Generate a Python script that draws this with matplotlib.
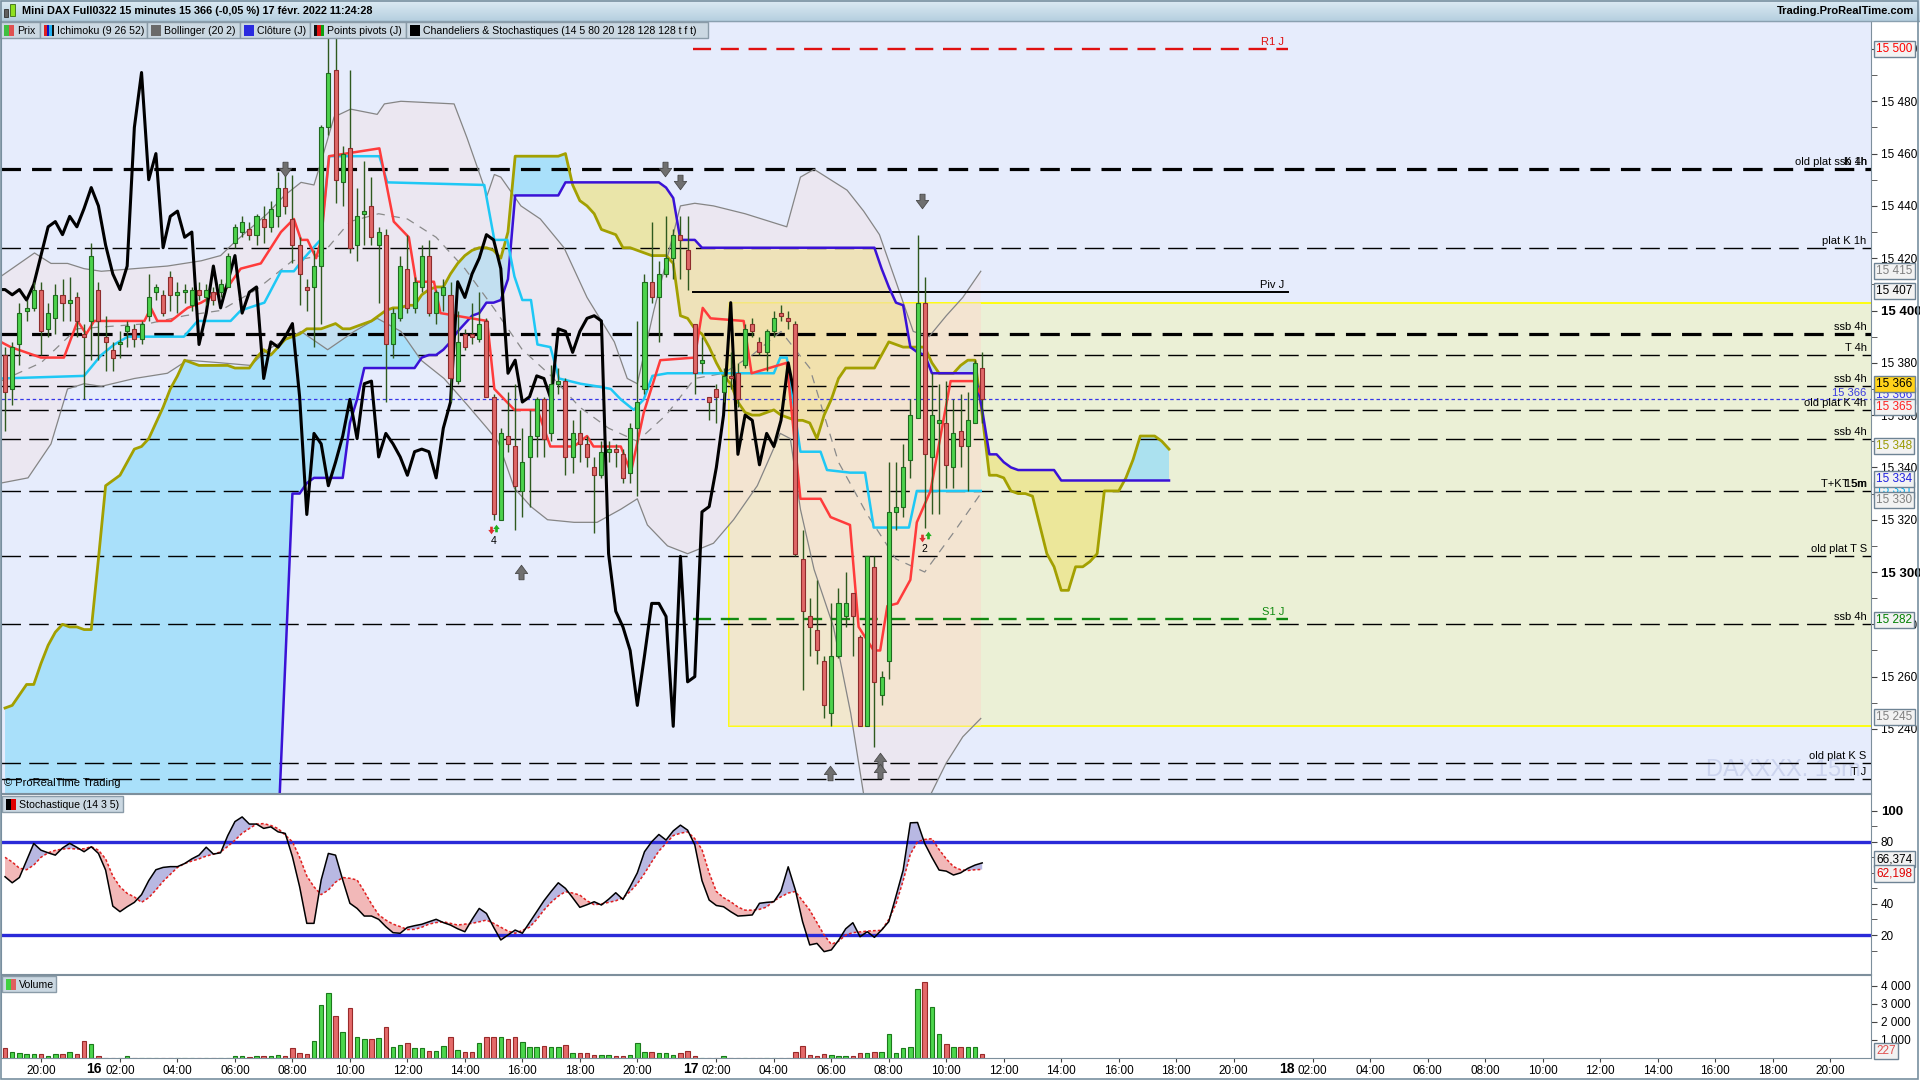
import numpy as np
import pandas as pd
import matplotlib
matplotlib.use('Agg')
import matplotlib.pyplot as plt
from matplotlib.patches import Rectangle, Polygon
from matplotlib.colors import LinearSegmentedColormap

plt.rcParams['font.family'] = ['Liberation Sans', 'DejaVu Sans']
plt.rcParams['lines.scale_dashes'] = False

# ---------------- data (15 min bars, Mini DAX Full0322) ----------------
sessions = [('2022-02-15 18:45', '2022-02-15 21:45'),
            ('2022-02-16 01:15', '2022-02-16 21:45'),
            ('2022-02-17 01:15', '2022-02-17 21:45'),
            ('2022-02-18 01:15', '2022-02-18 21:45')]

opens = [15383, 15370, 15387, 15400, 15401, 15408, 15393, 15397, 15406, 15403,
         15405, 15391, 15396, 15408, 15390, 15385, 15387, 15392, 15393, 15389,
         15398, 15407, 15406, 15413, 15406, 15407, 15402, 15408, 15405, 15407,
         15407, 15409, 15426, 15430, 15431, 15429, 15435, 15432, 15436, 15447,
         15435, 15425, 15409, 15409, 15417, 15470, 15492, 15449, 15462, 15425,
         15437, 15440, 15425, 15429, 15387, 15397, 15416, 15401, 15409, 15421,
         15399, 15406, 15406, 15373, 15391, 15391, 15389, 15396, 15367, 15320,
         15352, 15348, 15331, 15344, 15352, 15366, 15353, 15372, 15373, 15344,
         15353, 15349, 15340, 15337, 15346, 15347, 15345, 15338, 15355, 15370,
         15411, 15405, 15414, 15420, 15429, 15423, 15395, 15380, 15367, 15370,
         15369, 15375, 15376, 15379, 15395, 15388, 15384, 15392, 15399, 15397,
         15395, 15305, 15283, 15278, 15266, 15246, 15268, 15283, 15292, 15275,
         15241, 15302, 15253, 15266, 15323, 15325, 15343, 15359, 15403, 15344,
         15357, 15357, 15340, 15354, 15348, 15357, 15378]
highs = [15386, 15388, 15403, 15404, 15411, 15411, 15403, 15410, 15412, 15413,
         15407, 15395, 15426, 15411, 15398, 15388, 15392, 15396, 15395, 15396,
         15414, 15410, 15408, 15415, 15411, 15410, 15409, 15411, 15410, 15409,
         15412, 15422, 15433, 15436, 15434, 15437, 15440, 15442, 15453, 15455,
         15452, 15428, 15412, 15423, 15471, 15512, 15512, 15463, 15492, 15447,
         15457, 15451, 15432, 15431, 15401, 15421, 15429, 15413, 15425, 15427,
         15408, 15412, 15411, 15400, 15393, 15403, 15407, 15397, 15368, 15355,
         15369, 15372, 15355, 15362, 15367, 15367, 15379, 15378, 15374, 15358,
         15362, 15352, 15344, 15350, 15350, 15349, 15347, 15357, 15396, 15414,
         15434, 15419, 15436, 15431, 15436, 15436, 15395, 15390, 15367, 15372,
         15378, 15384, 15380, 15395, 15397, 15390, 15393, 15400, 15402, 15400,
         15396, 15316, 15290, 15297, 15268, 15288, 15294, 15300, 15292, 15276,
         15306, 15306, 15262, 15342, 15342, 15349, 15366, 15429, 15413, 15376,
         15372, 15373, 15366, 15368, 15369, 15381, 15384]
lows = [15354, 15364, 15379, 15396, 15400, 15383, 15390, 15391, 15396, 15396,
        15390, 15366, 15381, 15381, 15377, 15377, 15382, 15386, 15386, 15387,
        15396, 15404, 15398, 15400, 15399, 15403, 15400, 15404, 15402, 15402,
        15405, 15409, 15424, 15428, 15427, 15425, 15426, 15430, 15432, 15437,
        15418, 15402, 15400, 15386, 15395, 15467, 15441, 15440, 15422, 15419,
        15425, 15425, 15403, 15365, 15382, 15396, 15399, 15399, 15407, 15398,
        15395, 15400, 15365, 15372, 15385, 15387, 15388, 15367, 15320, 15320,
        15346, 15316, 15321, 15325, 15344, 15344, 15350, 15368, 15337, 15338,
        15342, 15340, 15315, 15336, 15342, 15340, 15334, 15334, 15329, 15368,
        15403, 15388, 15413, 15412, 15412, 15408, 15368, 15376, 15358, 15357,
        15365, 15370, 15363, 15378, 15390, 15383, 15377, 15390, 15396, 15393,
        15306, 15255, 15268, 15265, 15244, 15241, 15267, 15279, 15268, 15241,
        15241, 15233, 15249, 15259, 15316, 15321, 15336, 15359, 15317, 15322,
        15322, 15332, 15332, 15340, 15331, 15357, 15357]
closes = [15369, 15386, 15399, 15401, 15408, 15392, 15399, 15406, 15403, 15404,
          15396, 15390, 15421, 15396, 15388, 15382, 15388, 15394, 15389, 15395,
          15405, 15409, 15399, 15406, 15407, 15408, 15408, 15406, 15408, 15404,
          15410, 15421, 15432, 15434, 15429, 15436, 15432, 15439, 15447, 15440,
          15425, 15414, 15408, 15417, 15470, 15491, 15450, 15460, 15424, 15436,
          15438, 15428, 15430, 15387, 15399, 15417, 15401, 15411, 15421, 15399,
          15407, 15409, 15374, 15388, 15386, 15390, 15395, 15367, 15322, 15353,
          15349, 15333, 15342, 15352, 15366, 15351, 15372, 15373, 15344, 15353,
          15349, 15344, 15337, 15346, 15347, 15346, 15336, 15355, 15365, 15411,
          15405, 15414, 15420, 15429, 15427, 15416, 15376, 15381, 15365, 15367,
          15375, 15374, 15366, 15393, 15392, 15384, 15392, 15397, 15398, 15396,
          15307, 15285, 15279, 15270, 15249, 15268, 15288, 15288, 15283, 15241,
          15306, 15258, 15260, 15323, 15325, 15340, 15360, 15403, 15345, 15360,
          15358, 15341, 15353, 15348, 15358, 15380, 15366]
volume = [520, 330, 280, 185, 185, 220, 110, 185, 185, 300,
          185, 940, 740, 90, 0, 0, 0, 75, 0, 0,
          0, 0, 0, 0, 0, 0, 0, 0, 0, 0,
          0, 0, 75, 75, 20, 75, 75, 75, 130, 90,
          520, 240, 185, 940, 2960, 3630, 2330, 1440, 2790, 1170,
          1020, 1020, 1070, 1720, 610, 700, 800, 520, 520, 390,
          390, 650, 1170, 425, 330, 330, 830, 1170, 1170, 1130,
          1040, 1170, 890, 570, 570, 670, 570, 610, 700, 240,
          240, 240, 150, 130, 130, 90, 90, 150, 830, 330,
          330, 240, 280, 150, 240, 390, 75, 0, 0, 0,
          75, 0, 0, 0, 0, 0, 0, 0, 0, 0,
          330, 670, 130, 90, 185, 150, 90, 90, 75, 240,
          240, 330, 300, 1300, 240, 520, 610, 3850, 4220, 2830,
          1300, 760, 570, 610, 570, 570, 227]

# Ichimoku (9 26 52): tenkan / kijun
tenkan_x = [-0.6, 0.8, 5.0, 8.2, 10.1, 11.3, 12.4, 19.4, 20.3, 21.2,
            23.1, 25.4, 27.3, 31.0, 32.8, 35.6, 38.4, 40.2, 41.2, 42.1,
            43.3, 44.0, 45.1, 52.1, 54.1, 56.2, 57.2, 59.7, 60.6, 67.1,
            68.1, 70.9, 74.1, 75.9, 79.2, 81.0, 81.9, 85.7, 87.1, 88.9,
            91.2, 96.0, 97.1, 98.2, 102.8, 103.9, 108.8, 110.7, 113.5, 114.9,
            117.6, 118.8, 120.9, 121.8, 122.8, 124.2, 126.0, 126.9, 128.8, 131.6,
            134.8, 135.8]
tenkan = [15388, 15386, 15382, 15382, 15396, 15391, 15396, 15396, 15401, 15396,
          15396, 15401, 15403, 15409, 15416, 15418, 15430, 15435, 15427, 15427,
          15420, 15427, 15459, 15462, 15434, 15428, 15411, 15411, 15399, 15396,
          15370, 15362, 15362, 15348, 15348, 15352, 15348, 15348, 15338, 15361,
          15381, 15382, 15401, 15397, 15396, 15376, 15380, 15328, 15328, 15321,
          15318, 15279, 15270, 15270, 15287, 15288, 15297, 15319, 15331, 15373,
          15373, 15368]
kijun_x = [-0.6, 11.0, 13.4, 15.2, 17.1, 24.9, 26.8, 31.4, 32.8, 36.1,
           38.4, 40.2, 41.6, 43.9, 45.1, 52.1, 53.2, 66.7, 68.1, 69.9,
           70.9, 72.0, 73.2, 74.1, 75.9, 77.1, 80.1, 82.4, 84.3, 85.7,
           87.5, 88.9, 90.1, 92.2, 107.0, 107.9, 108.8, 110.7, 113.5, 114.4,
           117.6, 119.7, 120.9, 125.8, 126.9, 135.8]
kijun = [15374, 15375, 15383, 15387, 15390, 15390, 15396, 15396, 15400, 15403,
         15415, 15415, 15420, 15427, 15459, 15459, 15449, 15448, 15427, 15427,
         15413, 15404, 15404, 15387, 15386, 15374, 15372, 15371, 15370, 15366,
         15362, 15366, 15375, 15376, 15376, 15382, 15382, 15346, 15346, 15339,
         15338, 15338, 15317, 15317, 15331, 15331]

# senkou spans, one value per bar (projected 26 bars ahead)
ssa = [15248, 15249, 15253, 15257, 15257, 15265, 15272, 15277, 15280, 15279,
       15279, 15278, 15278, 15305, 15333, 15335, 15337, 15342, 15347, 15348,
       15351, 15357, 15363, 15370, 15375, 15381, 15380, 15379, 15379, 15379,
       15379, 15379, 15378, 15378, 15378, 15382, 15385, 15383, 15386, 15389,
       15390, 15391, 15393, 15393, 15393, 15394, 15395, 15393, 15393, 15394,
       15395, 15396, 15398, 15400, 15401, 15401, 15402, 15402, 15406, 15408,
       15409, 15409, 15414, 15418, 15421, 15423, 15424, 15424, 15423, 15420,
       15430, 15459, 15459, 15459, 15459, 15459, 15459, 15459, 15460, 15448,
       15442, 15440, 15437, 15431, 15430, 15429, 15424, 15424, 15423, 15422,
       15421, 15421, 15421, 15418, 15398, 15397, 15393, 15391, 15386, 15380,
       15375, 15372, 15365, 15361, 15360, 15360, 15361, 15362, 15360, 15359,
       15358, 15358, 15357, 15351, 15360, 15366, 15374, 15378, 15378, 15378,
       15378, 15378, 15383, 15388, 15387, 15386, 15386, 15386, 15386, 15380,
       15376, 15376, 15376, 15379, 15381, 15381, 15360, 15337, 15337, 15336,
       15331, 15330, 15330, 15329, 15318, 15307, 15302, 15293, 15293, 15302,
       15302, 15304, 15307, 15331, 15331, 15331, 15336, 15343, 15352, 15352,
       15352, 15350, 15347]
ssb = ([15170] * 38 +
       [15200, 15265,
        15330, 15330, 15334, 15336, 15336, 15336, 15336, 15336, 15357, 15366,
        15378, 15378, 15378, 15378, 15378, 15378, 15378, 15378, 15382, 15383,
        15383, 15385, 15388, 15392, 15395, 15398, 15399, 15403, 15403, 15404,
        15412, 15444, 15444, 15444, 15444, 15444, 15444, 15444, 15449, 15449,
        15449, 15449, 15449, 15449, 15449, 15449, 15449, 15449, 15449, 15449,
        15449, 15449, 15447, 15443, 15427, 15427, 15427, 15424, 15424, 15424,
        15424, 15424, 15424, 15424, 15424, 15424, 15424, 15424, 15424, 15424,
        15424, 15424, 15424, 15424, 15424, 15424, 15424, 15424, 15424, 15424,
        15424, 15424, 15416, 15409, 15403, 15402, 15386, 15384, 15383, 15376,
        15376, 15376, 15376, 15376, 15376, 15376, 15362, 15345, 15345, 15342,
        15340, 15339, 15339, 15339, 15339, 15339, 15339, 15335, 15335, 15335,
        15335, 15335, 15335, 15335, 15335, 15335, 15335, 15335, 15335, 15335,
        15335, 15335, 15335])

# Bollinger (20 2)
bb_up_x = [-0.6, 4.1, 6.4, 8.7, 11.0, 13.4, 18.0, 22.6, 27.3, 30.0,
           31.9, 36.5, 38.9, 41.2, 43.0, 44.0, 45.8, 48.1, 51.8, 52.8,
           55.1, 62.5, 64.3, 67.1, 68.1, 69.0, 71.8, 74.5, 77.8, 81.0,
           84.8, 86.6, 88.0, 90.3, 94.0, 96.0, 98.6, 103.0, 108.8, 110.7,
           112.6, 117.2, 119.5, 121.7, 124.0, 126.4, 128.6, 131.0, 133.3, 135.8]
bb_up = [15413, 15422, 15418, 15418, 15416, 15415, 15416, 15417, 15419, 15421,
         15426, 15437, 15444, 15449, 15448, 15457, 15474, 15477, 15475, 15479,
         15480, 15479, 15466, 15444, 15452, 15451, 15440, 15435, 15424, 15405,
         15388, 15374, 15372, 15400, 15440, 15441, 15440, 15437, 15432, 15451,
         15454, 15446, 15438, 15429, 15411, 15392, 15390, 15398, 15405, 15415]
bb_lo_x = [-0.6, 3.2, 6.4, 8.7, 11.0, 13.4, 18.0, 22.6, 25.4, 30.0,
           34.2, 36.5, 41.2, 44.9, 48.6, 51.8, 55.1, 57.9, 61.1, 64.3,
           67.1, 68.6, 70.9, 73.2, 75.5, 79.2, 82.4, 85.7, 88.0, 89.4,
           92.2, 95.0, 98.6, 101.4, 104.7, 107.9, 109.3, 110.7, 112.6, 115.3,
           117.7, 119.5, 122.0, 125.0, 128.3, 131.0, 133.3, 135.8]
bb_lo = [15334, 15336, 15349, 15370, 15372, 15371, 15374, 15376, 15381, 15380,
         15379, 15385, 15392, 15385, 15392, 15397, 15392, 15381, 15374, 15364,
         15355, 15350, 15332, 15325, 15320, 15319, 15319, 15324, 15328, 15318,
         15310, 15307, 15311, 15320, 15333, 15353, 15351, 15324, 15301, 15279,
         15246, 15215, 15200, 15195, 15212, 15227, 15237, 15244]
bb_mid_x = [-0.6, 5, 10, 15, 20, 25, 30, 35, 40, 44, 48, 52, 56, 60, 64, 68, 72,
            76, 80, 84, 88, 92, 96, 100, 104, 108, 112, 116, 120, 124, 128, 132, 135.8]
bb_mid = [15373, 15380, 15393, 15394, 15395, 15398, 15400, 15408, 15419, 15421,
          15434, 15437, 15435, 15428, 15416, 15401, 15385, 15375, 15363, 15355,
          15350, 15360, 15374, 15376, 15383, 15392, 15378, 15342, 15322, 15305,
          15300, 15315, 15330]

# Stochastique (14 3 5)
stoch_k = [57.5, 53.6, 57.0, 68.0, 78.9, 74.6, 72.9, 71.4, 76.0, 79.0,
           76.4, 73.6, 76.8, 72.5, 61.8, 38.6, 35.0, 38.2, 41.0, 46.0,
           55.0, 62.0, 63.5, 64.0, 64.0, 66.0, 69.0, 71.4, 76.5, 72.1,
           72.9, 84.0, 93.0, 96.0, 91.4, 91.4, 88.6, 89.6, 86.4, 85.4,
           70.4, 51.1, 27.5, 27.5, 55.4, 72.5, 71.4, 55.4, 40.4, 37.1,
           32.2, 32.2, 30.1, 25.4, 21.5, 21.1, 24.9, 26.0, 26.9, 28.5,
           30.1, 28.0, 26.4, 24.0, 22.1, 30.0, 37.1, 33.9, 25.0, 16.8,
           20.0, 23.2, 21.1, 28.0, 35.0, 42.0, 48.0, 53.6, 50.0, 44.0,
           37.8, 39.5, 41.4, 39.3, 43.0, 47.2, 42.9, 51.1, 60.0, 73.6,
           80.0, 84.7, 81.1, 87.0, 90.7, 87.5, 78.0, 55.0, 42.5, 39.0,
           38.2, 35.0, 32.2, 32.5, 32.9, 40.4, 41.0, 41.4, 48.3, 63.9,
           48.9, 28.6, 13.6, 14.6, 9.3, 10.4, 16.5, 24.0, 27.9, 18.9,
           22.1, 18.5, 23.2, 28.6, 45.0, 61.8, 92.2, 92.4, 78.9, 70.0,
           61.8, 61.1, 58.6, 60.0, 62.9, 65.0, 66.4]
stoch_d = [70.0, 67.0, 63.0, 62.0, 65.0, 70.0, 72.9, 74.5, 75.3, 75.7,
           75.3, 75.5, 76.8, 74.6, 69.0, 58.0, 51.0, 46.8, 44.5, 41.0,
           44.0, 49.0, 54.5, 59.0, 63.5, 66.0, 67.6, 69.0, 70.8, 72.0,
           73.5, 77.0, 81.0, 85.5, 88.5, 91.4, 91.7, 90.5, 88.5, 84.3,
           80.0, 70.0, 58.0, 51.0, 46.0, 48.9, 54.0, 57.0, 56.5, 55.4,
           48.0, 40.0, 33.0, 29.6, 27.0, 25.4, 23.5, 23.6, 25.0, 27.0,
           28.0, 28.5, 27.5, 26.4, 27.0, 27.5, 28.5, 29.6, 27.5, 25.0,
           22.5, 21.1, 23.0, 25.0, 30.0, 36.0, 41.0, 45.0, 47.9, 47.0,
           45.7, 42.0, 39.5, 40.0, 41.0, 42.0, 44.0, 48.0, 53.0, 59.6,
           67.0, 74.0, 79.0, 84.0, 85.5, 86.4, 82.0, 75.0, 60.0, 48.0,
           44.0, 41.4, 38.0, 36.0, 36.0, 36.5, 38.0, 42.0, 44.6, 47.0,
           48.0, 42.0, 36.0, 28.0, 20.0, 14.0, 16.0, 20.0, 21.5, 22.0,
           22.5, 22.8, 23.0, 30.0, 40.0, 55.0, 72.0, 80.0, 81.5, 82.0,
           75.0, 69.0, 64.0, 62.0, 61.5, 62.0, 62.2]

# horizontal levels drawn by the user
level_values = [15454, 15424, 15391, 15383, 15371, 15362, 15351, 15331, 15306, 15280, 15227, 15221]
level_names = ['old plat ssb 4h', 'plat K 1h', 'ssb 4h', 'T 4h', 'ssb 4h', 'old plat K 4h',
               'ssb 4h', 'T+K 15m', 'old plat T S', 'ssb 4h', 'old plat K S', 'T J']
level_thick = [True, False, True, False, False, False, False, False, False, False, False, False]

# daily pivots (J)
pivot_names = ['R1 J', 'Piv J', 'S1 J']
pivot_values = [15500, 15407, 15282]
pivot_span = [95.8, 178.5]

# session range boxes
range_box = [100.8, 15241, 15403]
today_box_end = 135.8

# arrows / signals
down_arrow_x = [39.0, 91.9, 93.9, 127.6]
down_arrow_y = [15454, 15454, 15449, 15442]
up_arrow_x = [71.8, 114.8, 121.8, 121.8]
up_arrow_y = [15300, 15223, 15228, 15224]
signal_x = [68, 128]
signal_y = [15316, 15313]
signal_txt = ['4', '2']

# last value boxes on the price scale
price_boxes = [(15500, '15 500', '#FF0000', '#F2F2F2'), (15415, '15 415', '#808080', '#F2F2F2'),
               (15407.5, '15 407', '#000000', '#F2F2F2'), (15367.5, '15 366', '#3333EE', '#F2F2F2'),
               (15363, '15 365', '#FF2020', '#F2F2F2'), (15372, '15 366', '#000000', '#FFD21A'),
               (15348.3, '15 348', '#9A9A00', '#F2F2F2'), (15331.4, '15 331', '#00B0F0', '#F2F2F2'),
               (15327.5, '15 330', '#808080', '#F2F2F2'), (15335.6, '15 334', '#2020E0', '#F2F2F2'),
               (15281.6, '15 282', '#008000', '#F2F2F2'), (15244.7, '15 245', '#808080', '#F2F2F2')]
stoch_boxes = [(68.7, '66,374', '#000000'), (59.6, '62,198', '#E00000')]


def fmt(v):
    return f"{int(v):,}".replace(',', ' ')


# ---------------- figure ----------------
W, H = 1920, 1080
fig = plt.figure(figsize=(19.2, 10.8), dpi=100, facecolor='white')


def fa(x0, y0, x1, y1):
    return [x0 / W, 1 - y1 / H, (x1 - x0) / W, (y1 - y0) / H]


ax = fig.add_axes(fa(1, 21, 1871, 793))
ax_st = fig.add_axes(fa(1, 794, 1871, 974))
ax_v = fig.add_axes(fa(1, 975, 1871, 1058))
XL = (-0.56, 259.7)
for a in (ax, ax_st, ax_v):
    a.set_xlim(*XL)
    for s in a.spines.values():
        s.set_color('#7D8F9C')
    a.yaxis.tick_right()
ax.set_facecolor('#E6ECFC')
ax.set_ylim(15215.5, 15510.7)

idx = np.arange(len(closes))
o, hi, lo, c = map(np.array, (opens, highs, lows, closes))
up = c >= o

# range rectangles
ax.add_patch(Rectangle((range_box[0], range_box[1]), XL[1] - range_box[0] + 1, range_box[2] - range_box[1],
                       fc='#EBF0D6', ec='#FFFF00', lw=1.3, zorder=0.3))
ax.add_patch(Rectangle((range_box[0], range_box[1]), today_box_end - range_box[0], range_box[2] - range_box[1],
                       fc='#F6E0C6', ec='none', alpha=0.55, zorder=0.4))

# kumo
xc = np.arange(len(ssa))
a_ssa, a_ssb = np.array(ssa, float), np.array(ssb, float)
ax.fill_between(xc, a_ssa, a_ssb, where=a_ssa >= a_ssb, interpolate=True, color='#90DCFA', alpha=0.7, lw=0, zorder=0.6)
ax.fill_between(xc, a_ssa, a_ssb, where=a_ssa < a_ssb, interpolate=True, color='#EEE173', alpha=0.6, lw=0, zorder=0.6)

# bollinger area
poly = list(zip(bb_up_x, bb_up)) + list(zip(bb_lo_x, bb_lo))[::-1]
ax.add_patch(Polygon(poly, closed=True, fc='#F8DEDC', ec='none', alpha=0.33, zorder=0.7))
ax.plot(bb_up_x, bb_up, color='#858585', lw=0.9, zorder=1.2)
ax.plot(bb_lo_x, bb_lo, color='#858585', lw=0.9, zorder=1.2)
ax.plot(bb_mid_x, bb_mid, color='#8A8A8A', lw=0.9, dashes=(6, 5), zorder=1.2)

# watermark
ax.text(0.912, 0.03, 'DAXXXX. 15m', transform=ax.transAxes, fontsize=17, color='#CCD4EE',
        ha='left', va='center', zorder=0.8)

# user levels
for v, name, thick in zip(level_values, level_names, level_thick):
    ax.axhline(v, color='black', lw=2.3 if thick else 1.0, dashes=(14, 8) if thick else (14, 6), zorder=1.0)
    ax.text(259.1, v + 0.8, name, ha='right', va='bottom', fontsize=8, zorder=4)
ax.text(259.1, level_values[0] + 0.8, 'K 1h', ha='right', va='bottom', fontsize=8, zorder=4)
ax.text(259.1, level_values[7] + 0.8, 'T 5m', ha='right', va='bottom', fontsize=8, zorder=4)

# pivots
piv_col = ['#E01010', '#000000', '#108A10']
for v, name, col in zip(pivot_values, pivot_names, piv_col):
    if name == 'Piv J':
        ax.plot(pivot_span, [v, v], color=col, lw=1.4, zorder=1.3)
    else:
        ax.plot(pivot_span, [v, v], color=col, lw=1.7, dashes=(13, 7), zorder=1.3)
    ax.text(pivot_span[1] - 0.5, v + 0.8, name, color=col, ha='right', va='bottom', fontsize=8, zorder=4)

# current price
ax.axhline(closes[-1], color='#3535E8', lw=0.9, dashes=(2.5, 2), zorder=1.4)
ax.text(259.1, closes[-1] + 0.6, fmt(closes[-1]), ha='right', va='bottom', color='#3A3AE0', fontsize=8, zorder=4)

# ichimoku lines
ax.plot(xc, ssa, color='#A3A000', lw=2.0, zorder=1.5)
ax.plot(xc, ssb, color='#3A12D6', lw=1.8, zorder=1.5)
ax.plot(kijun_x, kijun, color='#1EC8F5', lw=1.8, zorder=1.6)
ax.plot(tenkan_x, tenkan, color='#FF3B3B', lw=1.8, zorder=1.6)
ax.plot(idx - 26, c, color='black', lw=2.2, zorder=1.7)

# candles
ax.vlines(idx, lo, hi, color='#2F5A1F', lw=1.0, zorder=2)
ax.bar(idx, np.maximum(np.abs(c - o), 0.7), bottom=np.minimum(o, c), width=0.56,
       color=['#4CD24C' if u else '#E06868' for u in up],
       edgecolor=['#1F6B1F' if u else '#8E2C2C' for u in up], lw=0.8, zorder=2.1)

# arrows
down_marker = [(-0.35, 1), (0.35, 1), (0.35, 0.15), (0.85, 0.15), (0, -1), (-0.85, 0.15), (-0.35, 0.15), (-0.35, 1)]
up_marker = [(x, -y) for x, y in down_marker]
ax.scatter(down_arrow_x, down_arrow_y, marker=down_marker, s=110, c='#6F6F6F', edgecolors='#4A4A4A', lw=0.6, zorder=3)
ax.scatter(up_arrow_x, up_arrow_y, marker=up_marker, s=110, c='#6F6F6F', edgecolors='#4A4A4A', lw=0.6, zorder=3)
for sx, sy, st in zip(signal_x, signal_y, signal_txt):
    ax.scatter([sx - 0.4], [sy], marker=down_marker, s=30, c='#E03030', lw=0, zorder=3)
    ax.scatter([sx + 0.4], [sy + 1], marker=up_marker, s=30, c='#20B020', lw=0, zorder=3)
    ax.text(sx, sy - 2.2, st, ha='center', va='top', fontsize=7.5, zorder=3)

# price scale
ax.set_yticks(np.arange(15240, 15501, 20))
ax.set_yticklabels([fmt(v) for v in np.arange(15240, 15501, 20)])
ax.set_yticks(np.arange(15250, 15510, 20), minor=True)
ax.tick_params(axis='y', which='both', direction='out', length=4, pad=3, labelsize=8.5, color='#444444')
ax.tick_params(axis='x', bottom=False, labelbottom=False)
for lbl in ax.get_yticklabels():
    if lbl.get_text() in ('15 400', '15 300'):
        lbl.set_fontweight('bold')
        lbl.set_fontsize(9.5)


def value_box(axis, y, txt, col, fc='#F2F2F2'):
    axis.text(1.0028, y, txt, transform=axis.get_yaxis_transform(), ha='left', va='center',
              fontsize=8.5, color=col, zorder=6, clip_on=False,
              bbox=dict(boxstyle='square,pad=0.18', fc=fc, ec='#6E8394', lw=1))


for y, t, col, fc in price_boxes:
    value_box(ax, y, t, col, fc)

# ---------------- stochastic ----------------
K, D = np.array(stoch_k), np.array(stoch_d)
ax_st.set_ylim(-5.1, 110.75)
ax_st.fill_between(idx, K, D, where=K >= D, interpolate=True, color='#B8B8E2', lw=0)
ax_st.fill_between(idx, K, D, where=K < D, interpolate=True, color='#F2B8B8', lw=0)
ax_st.axhline(80, color='#2A2AD8', lw=2.4)
ax_st.axhline(20, color='#2A2AD8', lw=2.4)
ax_st.plot(idx, D, color='#E02020', lw=1.1, dashes=(2, 1.5))
ax_st.plot(idx, K, color='black', lw=1.1)
ax_st.set_yticks([20, 40, 80, 100])
ax_st.set_yticklabels(['20', '40', '80', '100'])
ax_st.set_yticks([10, 30, 50, 60, 70, 90], minor=True)
ax_st.tick_params(axis='y', which='both', direction='out', length=4, pad=3, labelsize=8.5, color='#444444')
ax_st.tick_params(axis='x', bottom=False, labelbottom=False)
for lbl in ax_st.get_yticklabels():
    if lbl.get_text() == '100':
        lbl.set_fontweight('bold')
        lbl.set_fontsize(9.5)
for y, t, col in stoch_boxes:
    value_box(ax_st, y, t, col)

# ---------------- volume ----------------
ax_v.set_ylim(-20, 4611)
ax_v.bar(idx, volume, width=0.62, color=['#4CD64C' if u else '#E46A6A' for u in up],
         edgecolor=['#1B7A1B' if u else '#9A2A2A' for u in up], lw=0.8)
ax_v.set_yticks([1000, 2000, 3000, 4000])
ax_v.set_yticklabels([fmt(v) for v in [1000, 2000, 3000, 4000]])
ax_v.tick_params(axis='y', direction='out', length=4, pad=3, labelsize=8.5, color='#444444')
value_box(ax_v, 380, fmt(volume[-1]), '#E05050')

times = pd.DatetimeIndex(np.concatenate([pd.date_range(a, b, freq='15min').values for a, b in sessions]))
tick_pos = np.nonzero((times.minute == 0) & (times.hour % 2 == 0))[0]
tick_pos = tick_pos[tick_pos < XL[1]]
ax_v.set_xticks(tick_pos)
ax_v.set_xticklabels(times[tick_pos].strftime('%H:%M'), family=['Liberation Sans Narrow', 'Liberation Sans'])
ax_v.tick_params(axis='x', direction='out', length=3, pad=2, labelsize=8.5, color='#444444')
day_pos = np.nonzero(times.normalize()[1:] != times.normalize()[:-1])[0] + 1
for p in day_pos:
    ax_v.text(p - 0.6, -0.13, times[p].strftime('%d').lstrip('0'), transform=ax_v.get_xaxis_transform(),
              ha='center', va='center', fontsize=10, fontweight='bold', clip_on=False)

# ---------------- header, legends, frame (pixel overlay) ----------------
ov = fig.add_axes([0, 0, 1, 1], zorder=10)
ov.patch.set_alpha(0)
cm = LinearSegmentedColormap.from_list('bar', ['#DDEBF4', '#B5CFDF'])
ov.imshow(np.linspace(0, 1, 40).reshape(-1, 1), extent=(0, W, 21, 0), cmap=cm, aspect='auto', zorder=1)
ov.set_xlim(0, W)
ov.set_ylim(H, 0)
ov.axis('off')
ov.plot([0, W], [21, 21], color='#8AA0B0', lw=1, zorder=2)
ov.add_patch(Rectangle((4, 9), 4, 8, fc='#606060', ec='#303030', lw=0.6, zorder=3))
ov.add_patch(Rectangle((10, 4), 5, 12, fc='#8FE020', ec='#3A6A10', lw=0.6, zorder=3))
ov.text(22, 11, 'Mini DAX Full0322 15 minutes 15 366 (-0,05 %) 17 févr. 2022 11:24:28',
        fontsize=7.8, fontweight='bold', ha='left', va='center', zorder=3)
ov.text(1914, 11, 'Trading.ProRealTime.com', fontsize=8, fontweight='bold', ha='right', va='center', zorder=3)

legend_items = [('Prix', 0, 40, ['#40C040', '#E05050']),
                ('Ichimoku (9 26 52)', 40, 147, ['#E02020', '#1010C0', '#20B0F0', '#101010']),
                ('Bollinger (20 2)', 147, 240, ['#6A6A6A']),
                ('Clôture (J)', 240, 310, ['#2B2BE0']),
                ('Points pivots (J)', 310, 406, ['#101010', '#E01010', '#10A010']),
                ('Chandeliers & Stochastiques (14 5 80 20 128 128 128 t f t)', 406, 708, ['#000000'])]


def label_box(x0, x1, y0, txt, cols):
    ov.add_patch(Rectangle((x0, y0), x1 - x0, 16, fc='#CBD8E2', ec='#8A9BA8', lw=1, zorder=3))
    w = 10 / len(cols)
    for k, col in enumerate(cols):
        ov.add_patch(Rectangle((x0 + 4 + k * w, y0 + 2.5), w, 11, fc=col, ec='none', zorder=4))
    ov.text(x0 + 17, y0 + 8.5, txt, fontsize=7.6, ha='left', va='center', zorder=4, clip_on=True)


for txt, x0, x1, cols in legend_items:
    label_box(x0, x1, 22, txt, cols)
label_box(2, 123, 796, 'Stochastique (14 3 5)', ['#000000', '#E00000'])
label_box(2, 56, 976, 'Volume', ['#40D040', '#E06060'])
ov.text(4, 788, '© ProRealTime Trading', fontsize=8, ha='left', va='bottom', zorder=4)
ov.add_patch(Rectangle((0.5, 0.5), W - 3, H - 1.5, fill=False, ec='#7890A0', lw=1.2, zorder=5))

fig.savefig('out.png', dpi=100, facecolor='white')
